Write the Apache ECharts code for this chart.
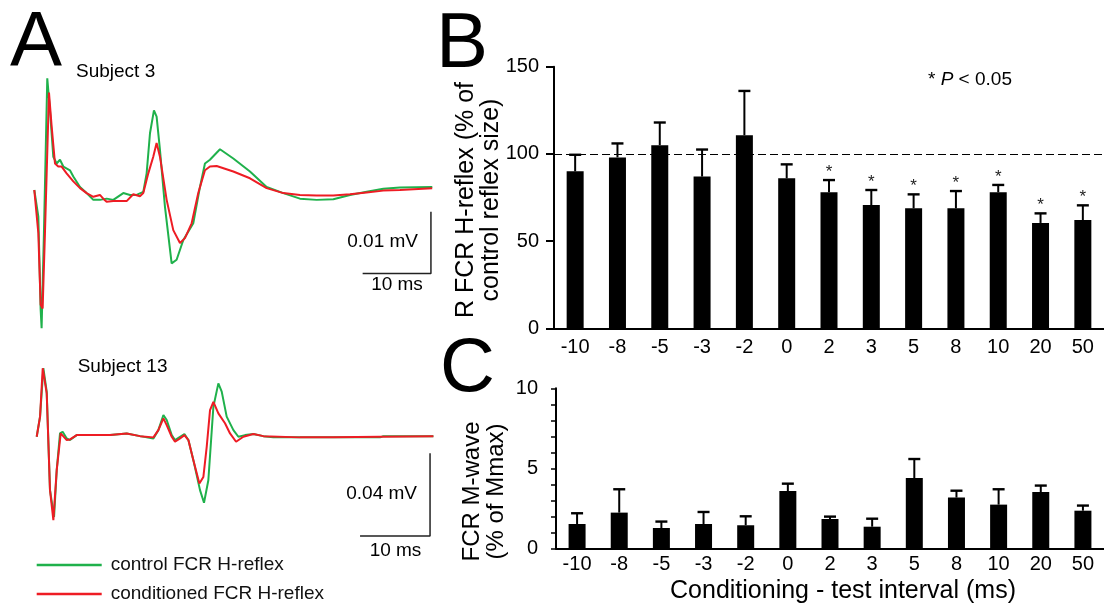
<!DOCTYPE html>
<html><head><meta charset="utf-8">
<script src="https://cdn.jsdelivr.net/npm/echarts@6/dist/echarts.min.js"></script>
<style>html,body{margin:0;padding:0;background:#fff}#c{width:1104px;height:610px}</style>
</head><body><div id="c"></div>
<script>
// ---------- Panel B / C data ----------
const intervals = ['-10','-8','-5','-3','-2','0','2','3','5','8','10','20','50'];
const hReflexMean = [90, 98, 105, 87, 110.7, 86, 78, 70.7, 68.8, 68.8, 78, 60.4, 62.1];
const hReflexSem  = [9.5, 8, 13, 15.5, 25.4, 8, 7, 8.6, 8, 9.9, 4.2, 5.5, 8.4];
const hReflexSig  = [0, 0, 0, 0, 0, 0, 1, 1, 1, 1, 1, 1, 1];
const hReflexControlLevel = 100;
const mWaveMean = [1.52, 2.23, 1.27, 1.52, 1.44, 3.58, 1.83, 1.35, 4.39, 3.17, 2.73, 3.52, 2.35];
const mWaveSem  = [0.67, 1.46, 0.40, 0.75, 0.56, 0.46, 0.15, 0.50, 1.19, 0.43, 0.96, 0.40, 0.32];

// ---------- Panel A traces: [time ms, amplitude µV] ----------
const s3Control = [[0,0],[0.59,-4.3],[0.93,-19.4],[1.07,-22.4],[1.41,-7.0],[1.90,18.1],[2.29,13.0],[2.78,5.4],[3.27,4.3],[3.76,4.9],[4.25,3.8],[5.22,3.2],[5.71,2.2],[6.69,0.5],[7.66,-0.5],[8.64,-1.6],[9.62,-1.6],[10.6,-1.4],[11.57,-1.6],[13.03,-0.5],[14.01,-0.8],[14.98,-0.8],[15.96,-0.3],[16.45,2.7],[16.94,9.2],[17.52,12.9],[17.91,11.9],[18.4,6.5],[19.13,-2.7],[20.11,-11.9],[20.84,-11.3],[21.82,-8.1],[23.28,-5.4],[24.26,0.5],[24.99,4.3],[25.72,4.9],[27.19,6.6],[29.14,5.1],[31.58,3.0],[34.02,0.5],[36.46,-0.5],[38.9,-1.4],[41.35,-1.6],[43.79,-1.5],[46.23,-0.8],[48.67,-0.3],[51.11,0.2],[53.55,0.4],[58.28,0.5]];
const s3Conditioned = [[0,0],[0.59,-7.0],[0.93,-18.6],[1.22,-19.2],[1.56,-7.0],[2.15,15.8],[2.54,10.3],[3.03,4.3],[3.51,3.8],[4.0,3.8],[4.73,2.7],[5.71,1.4],[6.69,0.3],[7.66,-0.5],[8.64,-1.1],[9.61,-0.8],[10.1,-1.4],[10.59,-1.9],[11.57,-1.8],[13.52,-1.8],[14.49,-0.7],[15.47,-1.0],[15.96,-0.5],[16.69,2.7],[17.42,5.4],[17.91,7.6],[18.4,5.4],[19.38,-1.6],[20.35,-6.5],[21.33,-8.6],[22.06,-7.8],[23.04,-5.4],[24.01,-0.5],[24.99,3.2],[25.72,3.8],[26.7,3.9],[29.14,3.0],[31.58,1.9],[34.02,0.3],[36.46,-0.5],[38.9,-0.8],[41.34,-0.9],[43.78,-0.9],[46.22,-0.7],[48.66,-0.4],[51.1,-0.1],[53.54,0],[58.27,0.3]];
const s13Control = [[0,0],[0.48,9.7],[0.95,33.1],[1.43,21.8],[1.9,-25.8],[2.48,-38.7],[2.86,-16.1],[3.33,1.6],[3.71,2.4],[4.29,-0.8],[4.76,-1.6],[5.71,0.8],[8.1,0.8],[10.48,0.8],[12.86,1.6],[14.76,0.3],[16.67,-0.8],[17.38,3.2],[18.1,10.5],[18.57,8.1],[19.29,0.8],[19.76,-1.6],[20.48,0],[21.1,1.3],[21.67,-1.6],[22.38,-11.3],[23.33,-25.8],[23.9,-31.9],[24.52,-21.0],[25.24,14.5],[25.95,25.8],[26.43,21.8],[27.14,9.7],[28.1,3.2],[28.81,0],[29.76,0.8],[30.95,1.3],[32.38,0.3],[33.81,-0.3],[37.62,-0.3],[42.38,-0.3],[49.05,-0.3],[49.52,0.3],[56.67,0.3]];
const s13Conditioned = [[0,0],[0.48,9.7],[0.86,33.1],[1.43,21.0],[1.9,-25.8],[2.38,-40.3],[2.86,-16.1],[3.43,1.6],[3.71,1.9],[4.29,-1.6],[4.76,-1.3],[5.71,0.8],[8.1,0.8],[10.48,0.8],[12.86,1.6],[14.76,0.3],[16.67,-0.3],[17.38,3.2],[18.1,8.9],[18.57,5.6],[19.29,0],[19.76,-2.4],[20.48,-0.8],[21.1,0.8],[21.67,-1.6],[22.38,-11.3],[23.24,-22.6],[23.81,-19.4],[24.29,-4.8],[24.76,12.9],[25.24,16.9],[25.95,11.3],[26.9,6.5],[27.62,1.6],[28.48,-2.4],[29.52,0],[30.95,1.3],[32.38,0.3],[37.62,-0.3],[42.38,-0.3],[49.05,0],[56.67,0.3]];
// scale bars (ms, µV): 10 ms x 10 µV and 10 ms x 40 µV
const s3ScaleBar = [[58.08,-3.52],[58.08,-13.52],[48.08,-13.52]];
const s13ScaleBar = [[56.19,-8],[56.19,-48],[46.19,-48]];

const seriesNames = ['control FCR H-reflex', 'conditioned FCR H-reflex'];
const GREEN = '#1fb14b', RED = '#ee1c24';
const FONT = '"Liberation Sans", Arial, Helvetica, sans-serif';

function txt(text, x, y, size, align, vAlign, extra) {
  return Object.assign({type:'text', x:x, y:y, silent:true,
    style:{text:text, font:size+'px '+FONT, fill:'#000', align:align, verticalAlign:vAlign,
           textAlign:align, textVerticalAlign:vAlign}}, extra || {});
}

function errorBars(means, sems, sigs, xi, yi) {
  const data = means.map((m,i)=>[i, m, m+sems[i], sigs ? sigs[i] : 0]);
  return {type:'custom', xAxisIndex:xi, yAxisIndex:yi, z:5, silent:true, data:data,
    encode:{x:0, y:[1,2]},
    renderItem:function(params, api){
      const b = api.coord([api.value(0), api.value(1)]);
      const t = api.coord([api.value(0), api.value(2)]);
      const x = b[0];
      const ch = [
        {type:'line', shape:{x1:x, y1:b[1], x2:x, y2:t[1]}, style:{stroke:'#000', lineWidth:2}},
        {type:'line', shape:{x1:x-6, y1:t[1], x2:x+6, y2:t[1]}, style:{stroke:'#000', lineWidth:2.4}}
      ];
      if (api.value(3)) ch.push({type:'text', x:x, y:t[1]-8,
        style:{text:'*', font:'17px '+FONT, fill:'#222', align:'center', verticalAlign:'middle', textAlign:'center', textVerticalAlign:'middle'}});
      return {type:'group', children:ch};
    }};
}

const axisLbl = {color:'#000', fontSize:20, fontFamily:FONT};
const chart = echarts.init(document.getElementById('c'));
chart.setOption({
  animation:false,
  backgroundColor:'#fff',
  grid:[
    {left:34.3, top:60, width:398, height:270},
    {left:36.7, top:355, width:396.7, height:190},
    {left:554, top:66.7, width:554.3, height:261.6},
    {left:556, top:388.3, width:554.3, height:160}
  ],
  xAxis:[
    {gridIndex:0, type:'value', min:0, max:58.28, show:false},
    {gridIndex:1, type:'value', min:0, max:56.67, show:false},
    {gridIndex:2, type:'category', data:intervals,
      axisLine:{lineStyle:{color:'#000', width:2}},
      axisTick:{length:7, lineStyle:{color:'#000', width:2}},
      axisLabel:Object.assign({margin:9, interval:0}, axisLbl)},
    {gridIndex:3, type:'category', data:intervals,
      axisLine:{lineStyle:{color:'#000', width:2}},
      axisTick:{length:4, lineStyle:{color:'#000', width:1.5}},
      axisLabel:Object.assign({margin:6, interval:0}, axisLbl)}
  ],
  yAxis:[
    {gridIndex:0, type:'value', min:-22.69, max:21.07, show:false},
    {gridIndex:1, type:'value', min:-52.3, max:39.5, show:false},
    {gridIndex:2, type:'value', min:0, max:150, interval:50,
      axisLine:{show:true, lineStyle:{color:'#000', width:2}},
      axisTick:{show:true, length:8, lineStyle:{color:'#000', width:2}},
      splitLine:{show:false},
      axisLabel:Object.assign({margin:15}, axisLbl)},
    {gridIndex:3, type:'value', min:0, max:10, interval:5,
      axisLine:{show:true, lineStyle:{color:'#000', width:2}},
      axisTick:{show:true, length:5, lineStyle:{color:'#000', width:1.5}},
      minorTick:{show:true, splitNumber:5, length:5, lineStyle:{color:'#000', width:1.5}},
      splitLine:{show:false},
      axisLabel:Object.assign({margin:18}, axisLbl)}
  ],
  legend:{data:seriesNames, orient:'vertical', left:36.7, top:555.5, padding:0,
    icon:'rect', itemWidth:65, itemHeight:2.5, itemGap:10,
    textStyle:{color:'#111', fontSize:19, lineHeight:19, fontFamily:FONT, padding:[0,0,0,4]}},
  series:[
    {name:seriesNames[0], type:'line', xAxisIndex:0, yAxisIndex:0, data:s3Control, showSymbol:false, color:GREEN, lineStyle:{width:2, color:GREEN}, z:2},
    {name:seriesNames[1], type:'line', xAxisIndex:0, yAxisIndex:0, data:s3Conditioned, showSymbol:false, color:RED, lineStyle:{width:2, color:RED}, z:3},
    {name:seriesNames[0], type:'line', xAxisIndex:1, yAxisIndex:1, data:s13Control, showSymbol:false, color:GREEN, lineStyle:{width:2, color:GREEN}, z:2},
    {name:seriesNames[1], type:'line', xAxisIndex:1, yAxisIndex:1, data:s13Conditioned, showSymbol:false, color:RED, lineStyle:{width:2, color:RED}, z:3},
    {name:'scale3', type:'line', xAxisIndex:0, yAxisIndex:0, data:s3ScaleBar, showSymbol:false, lineStyle:{width:1.5, color:'#222'}, color:'#222'},
    {name:'scale13', type:'line', xAxisIndex:1, yAxisIndex:1, data:s13ScaleBar, showSymbol:false, lineStyle:{width:1.5, color:'#222'}, color:'#222'},
    {name:'H-reflex', type:'bar', xAxisIndex:2, yAxisIndex:2, data:hReflexMean, barWidth:17, itemStyle:{color:'#000'},
      markLine:{silent:true, symbol:'none', label:{show:false}, data:[{yAxis:hReflexControlLevel}],
        lineStyle:{type:[8,4], color:'#000', width:1.2}}},
    errorBars(hReflexMean, hReflexSem, hReflexSig, 2, 2),
    {name:'M-wave', type:'bar', xAxisIndex:3, yAxisIndex:3, data:mWaveMean, barWidth:17, itemStyle:{color:'#000'}},
    errorBars(mWaveMean, mWaveSem, null, 3, 3)
  ],
  graphic:[
    txt('A', 10, 44, 78, 'left', 'middle'),
    txt('B', 436, 45, 78, 'left', 'middle'),
    txt('C', 440, 370, 76, 'left', 'middle'),
    txt('Subject 3', 76, 72, 19, 'left', 'middle'),
    txt('Subject 13', 77.7, 366.7, 19, 'left', 'middle'),
    txt('0.01 mV', 418, 242, 19, 'right', 'middle'),
    txt('10 ms', 397, 285, 19, 'center', 'middle'),
    txt('0.04 mV', 417, 494, 19, 'right', 'middle'),
    txt('10 ms', 395.5, 550.7, 19, 'center', 'middle'),
    txt('R FCR H-reflex (% of\ncontrol reflex size)', 479, 200, 25, 'center', 'middle', {rotation:Math.PI/2}),
    txt('FCR M-wave\n(% of Mmax)', 484, 491.5, 24, 'center', 'middle', {rotation:Math.PI/2}),
    txt('Conditioning - test interval (ms)', 843, 591, 25, 'center', 'middle'),
    {type:'text', x:928, y:80, silent:true, style:{text:'* {i|P} < 0.05', font:'19px '+FONT, fill:'#000',
      align:'left', verticalAlign:'middle', textAlign:'left', textVerticalAlign:'middle',
      rich:{i:{fontStyle:'italic', fontSize:19, fontFamily:FONT, fill:'#000', color:'#000'}}}}
  ]
});
</script></body></html>
